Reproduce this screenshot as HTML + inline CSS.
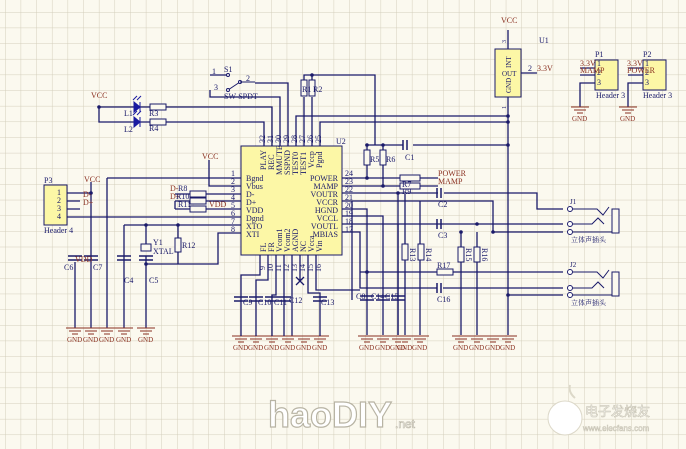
<!DOCTYPE html>
<html><head><meta charset="utf-8"><style>
html,body{margin:0;padding:0;background:#fbf9ef;}
svg{display:block}
text{font-family:"Liberation Serif","Noto Serif CJK SC",serif;font-size:8px;fill:#1a1a6a}
.l{fill:#8a3020}
.w{stroke:#1a1a6a;stroke-width:1.3;fill:none}
.g{stroke:#8a3020;stroke-width:1;fill:none}
.r{fill:#fbf9ef;stroke:#1a1a6a;stroke-width:1}
</style></head><body>
<svg width="686" height="449" viewBox="0 0 686 449" xmlns="http://www.w3.org/2000/svg">
<defs>
<pattern id="gp" x="5" y="12" width="15.65" height="15.65" patternUnits="userSpaceOnUse">
<path d="M0 0V15.65M0 0H15.65" stroke="#d3cebb" stroke-width="1" fill="none"/>
</pattern>
<g id="gnd"><path d="M-9 0H9M-6 3H6M-3 6H3" class="g"/><text x="-8" y="14" class="l" style="font-size:7px">GND</text></g>
</defs>
<rect width="686" height="449" fill="url(#gp)"/>

<rect x="241" y="146" width="101" height="109" fill="#fcf7a6" stroke="#1a1a6a" stroke-width="1"/>
<text x="336" y="144" style="font-size:8px">U2</text>
<g style="font-size:8px">
<text x="246" y="181">Bgnd</text><text x="246" y="189">Vbus</text><text x="246" y="197">D-</text><text x="246" y="205">D+</text><text x="246" y="213">VDD</text><text x="246" y="221">Dgnd</text><text x="246" y="229">XTO</text><text x="246" y="237">XTI</text>
<text x="338" y="181" text-anchor="end">POWER</text><text x="338" y="189" text-anchor="end">MAMP</text><text x="338" y="197" text-anchor="end">VOUTR</text><text x="338" y="205" text-anchor="end">VCCR</text><text x="338" y="213" text-anchor="end">HGND</text><text x="338" y="221" text-anchor="end">VCCL</text><text x="338" y="229" text-anchor="end">VOUTL</text><text x="338" y="237" text-anchor="end">MBIAS</text>
</g>
<g style="font-size:7px">
<text transform="translate(266,170) rotate(-90)">PLAY</text><text transform="translate(274,170) rotate(-90)">REC</text><text transform="translate(282,175) rotate(-90)">MMUTE</text><text transform="translate(290,175) rotate(-90)">SSPND</text><text transform="translate(298,175) rotate(-90)">TEST0</text><text transform="translate(306,175) rotate(-90)">TEST1</text><text transform="translate(314,168) rotate(-90)">Vccp</text><text transform="translate(322,168) rotate(-90)">Pgnd</text>
<text transform="translate(266,252) rotate(-90)">FL</text><text transform="translate(274,252) rotate(-90)">FR</text><text transform="translate(282,252) rotate(-90)">Vcom1</text><text transform="translate(290,252) rotate(-90)">Vcom2</text><text transform="translate(298,252) rotate(-90)">AGND</text><text transform="translate(306,252) rotate(-90)">NC</text><text transform="translate(314,252) rotate(-90)">Vcca</text><text transform="translate(322,252) rotate(-90)">Vin</text>
<text transform="translate(265,143) rotate(-90)">32</text><text transform="translate(273,143) rotate(-90)">31</text><text transform="translate(281,143) rotate(-90)">30</text><text transform="translate(289,143) rotate(-90)">29</text><text transform="translate(297,143) rotate(-90)">28</text><text transform="translate(305,143) rotate(-90)">27</text><text transform="translate(313,143) rotate(-90)">26</text><text transform="translate(321,143) rotate(-90)">25</text>
<text transform="translate(265,270) rotate(-90)">9</text><text transform="translate(273,272) rotate(-90)">10</text><text transform="translate(281,272) rotate(-90)">11</text><text transform="translate(289,272) rotate(-90)">12</text><text transform="translate(297,272) rotate(-90)">13</text><text transform="translate(305,272) rotate(-90)">14</text><text transform="translate(313,272) rotate(-90)">15</text><text transform="translate(321,272) rotate(-90)">16</text>
<text x="231" y="176">1</text><text x="231" y="184">2</text><text x="231" y="192">3</text><text x="231" y="200">4</text><text x="231" y="208">5</text><text x="231" y="216">6</text><text x="231" y="224">7</text><text x="231" y="232">8</text>
<text x="345" y="176">24</text><text x="345" y="184">23</text><text x="345" y="192">22</text><text x="345" y="200">21</text><text x="345" y="208">20</text><text x="345" y="216">19</text><text x="345" y="224">18</text><text x="345" y="232">17</text>
</g>

<g class="w">
<path d="M264 146V122H166M150 122H140M134 122H99V107H134M140 107H150M166 107H272V146"/>
<path d="M280 146V97H210V90"/>
<path d="M288 146V83H255"/>
<path d="M296 146V116H508"/>
<path d="M304 146V97M312 146V97M304 80V75H375V145M312 80V75"/>
<path d="M320 146V122H508"/>
<path d="M210 75H228"/>
<path d="M508 30V49M520 73H537M508 97V335"/>
<path d="M367 145H403M413 145H508M367 145V150M383 145V150M367 165V178M383 165V186"/>
<path d="M342 178H400M342 186H400M420 178H438M420 186H438"/>
<path d="M342 193H438M444 193H537V209H563"/>
<path d="M342 201H352V300M352 201H493V232"/>
<path d="M342 209H367V335"/>
<path d="M342 216H383V335"/>
<path d="M342 224H398V335M438 224H563M444 224H398"/>
<path d="M342 232H360V288H437M443 288H563"/>
<path d="M398 194V335"/>
<path d="M405 194V335"/>
<path d="M461 232V335M477 232V335M461 247V262M477 247V262"/>
<path d="M360 272H437M453 272H563"/>
<path d="M493 232H563M508 295H563"/>
<path d="M420 201V335"/>
<path d="M107 178H241M107 178V328"/>
<path d="M209 160V186H241"/>
<path d="M67 193H91M67 201H80M67 209H80M67 217H241"/>
<path d="M91 182V328M75 262V328"/>
<path d="M175 194H190M175 201H190M175 209H190M206 194H241M206 201H241M206 209H241M175 201V209"/>
<path d="M124 225H241M124 225V328"/>
<path d="M146 225V244M146 256V328M178 225V238M178 252V264M146 264H218V233H241"/>
<path d="M260 255V275H241V328"/>
<path d="M268 255V280H256V328"/>
<path d="M276 255V295H272V328"/>
<path d="M284 255V328"/>
<path d="M292 255V328"/>
<path d="M300 255V280M296 277L304 285M304 277L296 285"/>
<path d="M308 255V293H320V328"/>
<path d="M316 255V290H360"/>
</g>
<g fill="#1a1a6a">
<circle cx="99" cy="107" r="1.8"/><circle cx="91" cy="193" r="1.8"/><circle cx="146" cy="225" r="1.8"/><circle cx="178" cy="225" r="1.8"/><circle cx="146" cy="264" r="1.8"/><circle cx="312" cy="75" r="1.8"/><circle cx="367" cy="145" r="1.8"/><circle cx="383" cy="145" r="1.8"/><circle cx="508" cy="116" r="1.8"/><circle cx="508" cy="122" r="1.8"/><circle cx="508" cy="145" r="1.8"/><circle cx="367" cy="178" r="1.8"/><circle cx="383" cy="186" r="1.8"/><circle cx="398" cy="193" r="1.8"/><circle cx="493" cy="232" r="1.8"/><circle cx="508" cy="295" r="1.8"/><circle cx="461" cy="232" r="1.8"/><circle cx="477" cy="224" r="1.8"/><circle cx="367" cy="272" r="1.8"/>
</g>

<g stroke="#1a1a6a" stroke-width="1.5">
<path d="M403 140V150M407 140V150M437 188V198M441 188V198M437 219V229M441 219V229M437 283V293M441 283V293"/>
<path d="M68 256H82M68 260H82M84 256H98M84 260H98M117 256H131M117 260H131M139 256H153M139 260H153"/>
<path d="M234 297H248M234 301H248M249 297H263M249 301H263M265 297H279M265 301H279M277 297H291M277 301H291M313 297H327M313 301H327"/>
<path d="M360 296H374M360 300H374M376 296H390M376 300H390M391 296H405M391 300H405"/>
</g>
<g class="r">
<rect x="150" y="104" width="16" height="6"/><rect x="150" y="119" width="16" height="6"/>
<rect x="301" y="80" width="6" height="16"/><rect x="309" y="80" width="6" height="16"/>
<rect x="364" y="150" width="6" height="15"/><rect x="380" y="150" width="6" height="15"/>
<rect x="400" y="175" width="20" height="6"/><rect x="400" y="183" width="20" height="6"/>
<rect x="190" y="191" width="16" height="6"/><rect x="190" y="198" width="16" height="6"/><rect x="190" y="206" width="16" height="6"/>
<rect x="175" y="238" width="6" height="14"/>
<rect x="402" y="244" width="6" height="16"/><rect x="418" y="244" width="6" height="16"/>
<rect x="458" y="247" width="6" height="15"/><rect x="474" y="247" width="6" height="15"/>
<rect x="437" y="269" width="16" height="6"/>
</g>
<rect x="141" y="244" width="10" height="7" fill="#fbf9ef" stroke="#1a1a6a"/>
<g fill="#1a1aa0" stroke="#1a1aa0">
<path d="M134 102L140 107L134 112Z"/><path d="M140 102V112"/>
<path d="M134 117L140 122L134 127Z"/><path d="M140 117V127"/>
<path d="M133 100l4-4M137 100l4-4M133 115l4-4M137 115l4-4" fill="none"/>
</g>
<path d="M228 90L240 82" stroke="#1a1a6a" fill="none"/>
<circle cx="228" cy="90" r="1.5" fill="#fff" stroke="#1a1a6a"/><circle cx="240" cy="82" r="1.5" fill="#fff" stroke="#1a1a6a"/><circle cx="228" cy="75" r="1.5" fill="#fff" stroke="#1a1a6a"/>
<path d="M240 82H255" stroke="#1a1a6a"/>

<rect x="495" y="49" width="26" height="48" fill="#fcf7a6" stroke="#1a1a6a"/>
<text x="502" y="76" style="font-size:7px">OUT</text>
<text transform="translate(511,68) rotate(-90)" style="font-size:7px">INT</text>
<text transform="translate(511,93) rotate(-90)" style="font-size:7px">GND</text>
<text x="539" y="43">U1</text><text x="528" y="71">2</text><text x="537" y="71" class="l">3.3V</text>
<text transform="translate(506,43) rotate(-90)" style="font-size:6px">3</text>
<text transform="translate(506,109) rotate(-90)" style="font-size:6px">1</text>

<rect x="595" y="60" width="23" height="30" fill="#fcf7a6" stroke="#1a1a6a"/>
<rect x="643" y="60" width="23" height="30" fill="#fcf7a6" stroke="#1a1a6a"/>
<rect x="44" y="185" width="23" height="40" fill="#fcf7a6" stroke="#1a1a6a"/>
<g class="w"><path d="M580 68H595M580 75H595M595 83H580V107M628 68H643M628 75H643M643 83H628V107"/></g>
<g style="font-size:7px"><text x="597" y="66">1</text><text x="597" y="75">2</text><text x="597" y="85">3</text><text x="645" y="66">1</text><text x="645" y="75">2</text><text x="645" y="85">3</text>
<text x="595" y="57">P1</text><text x="643" y="57">P2</text><text x="580" y="66" class="l">3.3V</text><text x="580" y="73" class="l">MAMP</text><text x="627" y="66" class="l">3.3V</text><text x="627" y="73" class="l">POWER</text>
<text x="596" y="98">Header 3</text><text x="643" y="98">Header 3</text>
<text x="57" y="195">1</text><text x="57" y="203">2</text><text x="57" y="211">3</text><text x="57" y="219">4</text>
<text x="44" y="183">P3</text><text x="44" y="233">Header 4</text>
<text x="83" y="197" class="l">D-</text><text x="83" y="205" class="l">D+</text>
</g>
<use href="#gnd" x="580" y="107"/><use href="#gnd" x="628" y="107"/>

<g stroke="#1a1a6a" fill="none">
<rect x="612" y="209" width="7" height="24" fill="#fbf9ef"/><rect x="612" y="272" width="7" height="24" fill="#fbf9ef"/>
<path d="M573 209H597L603 215L609 207M573 224H592L598 218L604 224M573 232H612M573 272H597L603 278L609 270M573 288H592L598 282L604 288M573 295H612"/>
<circle cx="570" cy="209" r="2.5" fill="#fff"/><circle cx="570" cy="224" r="2.5" fill="#fff"/><circle cx="570" cy="232" r="2.5" fill="#fff"/>
<circle cx="570" cy="272" r="2.5" fill="#fff"/><circle cx="570" cy="288" r="2.5" fill="#fff"/><circle cx="570" cy="295" r="2.5" fill="#fff"/>
</g>
<text x="570" y="204" style="font-size:7px">J1</text><text x="570" y="267" style="font-size:7px">J2</text>
<text x="571" y="242" style="font-size:7px">立体声插头</text><text x="571" y="305" style="font-size:7px">立体声插头</text>

<use href="#gnd" x="75" y="328"/><use href="#gnd" x="91" y="328"/><use href="#gnd" x="107" y="328"/><use href="#gnd" x="124" y="328"/><use href="#gnd" x="146" y="328"/>
<use href="#gnd" x="241" y="336"/><use href="#gnd" x="256" y="336"/><use href="#gnd" x="272" y="336"/><use href="#gnd" x="288" y="336"/><use href="#gnd" x="304" y="336"/><use href="#gnd" x="320" y="336"/>
<use href="#gnd" x="367" y="336"/><use href="#gnd" x="383" y="336"/><use href="#gnd" x="398" y="336"/><use href="#gnd" x="405" y="336"/><use href="#gnd" x="420" y="336"/>
<use href="#gnd" x="461" y="336"/><use href="#gnd" x="477" y="336"/><use href="#gnd" x="493" y="336"/><use href="#gnd" x="508" y="336"/>
<g class="w"><path d="M241 328V336M256 328V336M272 328V336M320 328V336M284 328V336M292 328V336"/></g>
<path d="M288 336H304" class="g"/>

<g style="font-size:7px">
<text x="91" y="98" class="l">VCC</text><text x="84" y="182" class="l">VCC</text><text x="202" y="159" class="l">VCC</text><text x="501" y="23" class="l">VCC</text>
<text x="124" y="116">L1</text><text x="124" y="132">L2</text><text x="149" y="116">R3</text><text x="149" y="131">R4</text>
<text x="224" y="72">S1</text><text x="212" y="74">1</text><text x="214" y="90">3</text><text x="246" y="81">2</text><text x="224" y="99">SW-SPDT</text>
<text x="302" y="92">R1</text><text x="313" y="92">R2</text>
<text x="370" y="162">R5</text><text x="386" y="162">R6</text><text x="405" y="160">C1</text>
<text x="438" y="176" class="l">POWER</text><text x="438" y="184" class="l">MAMP</text><text x="402" y="187">R7</text><text x="402" y="194">R9</text>
<text x="438" y="207">C2</text><text x="438" y="238">C3</text><text x="437" y="268">R17</text><text x="437" y="302">C16</text>
<text x="170" y="191" class="l">D-</text><text x="178" y="191">R8</text><text x="170" y="199" class="l">D+</text><text x="176" y="199">R10</text><text x="178" y="207">R11</text><text x="209" y="207" class="l">VDD</text>
<text x="153" y="245">Y1</text><text x="153" y="254">XTAL</text><text x="182" y="248">R12</text>
<text x="75" y="262" class="l">VDD</text><text x="64" y="270">C6</text><text x="93" y="270">C7</text><text x="124" y="283">C4</text><text x="149" y="283">C5</text>
<text x="243" y="305">C9</text><text x="258" y="305">C10</text><text x="274" y="305">C11</text><text x="289" y="303">C12</text><text x="321" y="305">C13</text>
<text x="356" y="299">C8</text><text x="371" y="299">C14</text><text x="385" y="299">C15</text>
<text transform="translate(410,248) rotate(90)">R13</text><text transform="translate(426,248) rotate(90)">R14</text><text transform="translate(466,248) rotate(90)">R15</text><text transform="translate(482,248) rotate(90)">R16</text>
</g>

<text x="268" y="427" style="font-family:'Liberation Sans',sans-serif;font-size:36px;fill:#ffffff;stroke:#b8b4a4;stroke-width:1.2;font-weight:bold">haoDIY</text>
<text x="395" y="428" style="font-family:'Liberation Sans',sans-serif;font-size:12px;fill:#fff;stroke:#b8b4a4;stroke-width:0.6">.net</text>
<circle cx="565" cy="418" r="17" fill="#fff" stroke="#dcd8c8"/>
<path d="M575 398Q568 392 570 385" stroke="#dcd8c8" fill="none" stroke-width="2"/>
<text x="585" y="416" style="font-family:'Noto Sans CJK SC',sans-serif;font-size:13px;fill:#fff;stroke:#c8c4b4;stroke-width:0.6">电子发烧友</text>
<text x="583" y="431" style="font-family:'Liberation Sans',sans-serif;font-size:8px;fill:#fff;stroke:#c8c4b4;stroke-width:0.5">www.elecfans.com</text>
</svg>
</body></html>
